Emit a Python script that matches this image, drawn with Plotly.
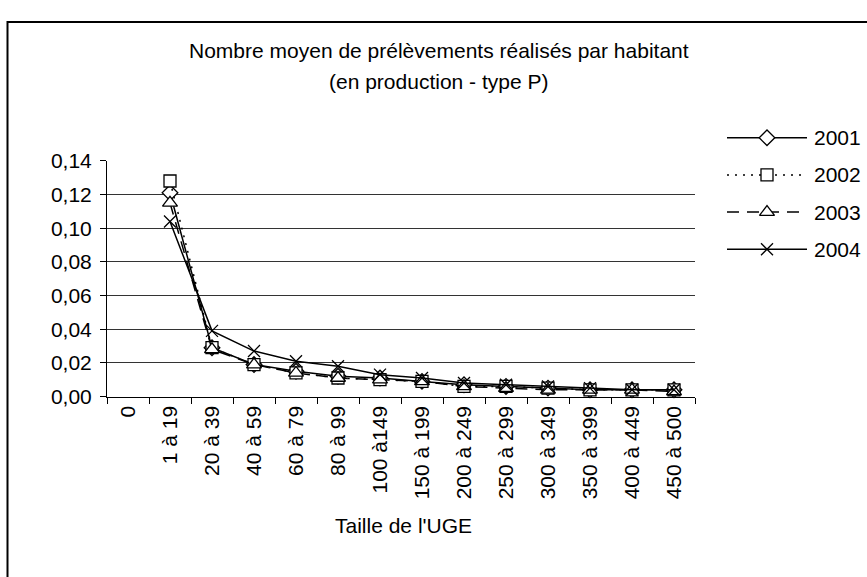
import plotly.graph_objects as go

categories = ["0", "1 à 19", "20 à 39", "40 à 59", "60 à 79", "80 à 99", "100 à149",
              "150 à 199", "200 à 249", "250 à 299", "300 à 349", "350 à 399",
              "400 à 449", "450 à 500"]
years = ["2001", "2002", "2003", "2004"]
v2001 = [None, 0.121, 0.029, 0.019, 0.015, 0.012, 0.011, 0.009, 0.007, 0.006, 0.005, 0.004, 0.004, 0.004]
v2002 = [None, 0.128, 0.029, 0.019, 0.014, 0.011, 0.010, 0.009, 0.006, 0.006, 0.005, 0.004, 0.004, 0.004]
v2003 = [None, 0.115, 0.028, 0.019, 0.014, 0.011, 0.010, 0.009, 0.006, 0.005, 0.004, 0.004, 0.004, 0.003]
v2004 = [None, 0.104, 0.039, 0.027, 0.021, 0.018, 0.013, 0.011, 0.008, 0.007, 0.006, 0.005, 0.004, 0.004]
values = [v2001, v2002, v2003, v2004]

W, H = 867, 577
FONT = "Liberation Sans, Arial, sans-serif"
FS = 21

styles = [
    dict(dash="solid", symbol="diamond", size=12),
    dict(dash="2px,6px", symbol="square", size=12),
    dict(dash="12px,8px", symbol="triangle-up", size=13),
    dict(dash="solid", symbol="x-thin", size=12),
]

# layout geometry (pixels)
px_left, px_right, px_top, px_bottom = 107, 695, 155, 400.5

fig = go.Figure()
for name, vals, st in zip(years, values, styles):
    fig.add_trace(go.Scatter(
        x=categories, y=vals, mode="lines+markers", name=name, showlegend=False,
        line=dict(color="black", width=1.5, dash=st["dash"]),
        marker=dict(symbol=st["symbol"], size=st["size"], color="white",
                    line=dict(color="black", width=1.3)),
        cliponaxis=False,
    ))

# manual legend (line sample with marker in middle)
leg_x0, leg_x1, leg_y0, leg_dy, leg_text_x = 727, 807, 131, 38.7, 812
for i, (name, st) in enumerate(zip(years, styles)):
    yy = leg_y0 + i * leg_dy
    fig.add_trace(go.Scatter(
        x=[leg_x0, leg_x1], y=[yy, yy], mode="lines", xaxis="x2", yaxis="y2",
        showlegend=False, hoverinfo="skip",
        line=dict(color="black", width=1.5, dash=st["dash"])))
    fig.add_trace(go.Scatter(
        x=[(leg_x0 + leg_x1) / 2], y=[yy], mode="markers", xaxis="x2", yaxis="y2",
        showlegend=False, hoverinfo="skip",
        marker=dict(symbol=st["symbol"], size=st["size"], color="white",
                    line=dict(color="black", width=1.3))))
    fig.add_annotation(x=leg_text_x / W, y=1 - yy / H, xref="paper", yref="paper",
                       text=name, showarrow=False, xanchor="left", yanchor="middle",
                       font=dict(size=FS, color="black", family=FONT))

fig.add_annotation(x=439 / W, y=1 - 40 / H, xref="paper", yref="paper",
                   text="Nombre moyen de prélèvements réalisés par habitant",
                   showarrow=False, xanchor="center", yanchor="middle",
                   font=dict(size=FS, color="black", family=FONT))
fig.add_annotation(x=438 / W, y=1 - 72 / H, xref="paper", yref="paper",
                   text="(en production - type P)",
                   showarrow=False, xanchor="center", yanchor="middle",
                   font=dict(size=FS, color="black", family=FONT))
fig.add_annotation(x=403 / W, y=1 - 535 / H, xref="paper", yref="paper",
                   text="Taille de l'UGE",
                   showarrow=False, xanchor="center", yanchor="middle",
                   font=dict(size=FS, color="black", family=FONT))

fig.add_shape(type="rect", xref="paper", yref="paper",
              x0=7.5 / W, x1=1.05, y0=-0.05, y1=1 - 10.5 / H,
              line=dict(color="black", width=2), fillcolor="rgba(0,0,0,0)", layer="below")

fig.update_layout(
    width=W, height=H, autosize=False,
    margin=dict(l=0, r=0, t=0, b=0),
    paper_bgcolor="white", plot_bgcolor="rgba(0,0,0,0)",
    separators=", ",
    font=dict(family=FONT, size=FS, color="black"),
    xaxis=dict(
        domain=[px_left / W, px_right / W], type="category",
        categoryorder="array", categoryarray=categories,
        range=[-0.5, len(categories) - 0.5],
        showgrid=False, showline=True, linecolor="black", linewidth=1,
        ticks="outside", tickson="boundaries", ticklen=6, tickcolor="black",
        tickangle=-90, tickfont=dict(size=FS, family=FONT, color="black"),
        zeroline=False, fixedrange=True,
    ),
    yaxis=dict(
        domain=[1 - px_bottom / H, 1 - px_top / H],
        range=[0, 0.14], dtick=0.02, tick0=0, tickformat=".2f",
        showgrid=True, gridcolor="#333333", gridwidth=1,
        showline=True, linecolor="black", linewidth=1,
        ticks="outside", ticklen=6, tickcolor="black", ticklabelstandoff=4,
        tickfont=dict(size=FS, family=FONT, color="black"),
        zeroline=False, fixedrange=True,
    ),
    xaxis2=dict(domain=[0, 1], range=[0, W], visible=False, fixedrange=True, anchor="y2"),
    yaxis2=dict(domain=[0, 1], range=[H, 0], visible=False, fixedrange=True, anchor="x2"),
)

fig.write_html("out.html", config={"displayModeBar": False},
               post_script="document.body.style.margin='0';document.body.style.overflow='hidden';")
